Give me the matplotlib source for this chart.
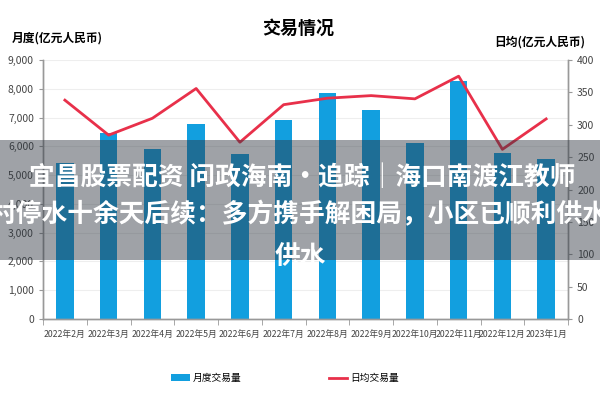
import matplotlib
matplotlib.use('Agg')
import matplotlib.pyplot as plt
from matplotlib.patches import Rectangle

plt.rcParams['font.family'] = ['Noto Sans CJK SC', 'DejaVu Sans']
narrow = ['Liberation Sans Narrow', 'Noto Sans CJK SC']

# data
months = ['2022年2月', '2022年3月', '2022年4月', '2022年5月', '2022年6月', '2022年7月',
          '2022年8月', '2022年9月', '2022年10月', '2022年11月', '2022年12月', '2023年1月']
monthly = [5420, 6480, 5900, 6770, 5730, 6910, 7840, 7260, 6100, 8260, 5760, 5550]
daily = [338, 284, 310, 356, 273, 331, 341, 345, 340, 375, 262, 309]
left_ticks = [0, 1000, 2000, 3000, 4000, 5000, 6000, 7000, 8000, 9000]
right_ticks = [0, 50, 100, 150, 200, 250, 300, 350, 400]

bar_color = '#129fdf'
line_color = '#e8304a'
axis_gray = '#999999'

fig = plt.figure(figsize=(6, 4), dpi=100)
ax = fig.add_axes([0.0717, 0.2025, 0.875, 0.6475])
ax2 = ax.twinx()

x = list(range(len(months)))
bars = ax.bar(x, monthly, width=0.4, color=bar_color, zorder=2, label='月度交易量')
line, = ax2.plot(x, daily, color=line_color, linewidth=2, label='日均交易量')

ax.set_xlim(-0.5, len(months) - 0.5)
ax.set_ylim(0, 9000)
ax2.set_ylim(0, 400)
ax.set_yticks(left_ticks)
ax.set_yticklabels([f'{v:,}' for v in left_ticks], family=narrow, fontsize=7.5, color='#444444')
ax2.set_yticks(right_ticks)
ax2.set_yticklabels([str(v) for v in right_ticks], family=narrow, fontsize=7.5, color='#444444')

ax.set_xticks(x)
ax.set_xticklabels(months, family=narrow, fontsize=6.3, color='#444444')
ax.set_xticks([i + 0.5 for i in range(-1, len(months))], minor=True)
ax.tick_params(axis='x', which='major', length=0, pad=8)
ax.tick_params(axis='x', which='minor', length=4, color=axis_gray)
ax.tick_params(axis='y', length=3, color=axis_gray)
ax2.tick_params(axis='y', length=3, color=axis_gray)

ax.grid(axis='y', color='#eeeeee', linewidth=0.8, zorder=0)
ax.set_axisbelow(True)
for a in (ax, ax2):
    a.spines['top'].set_visible(False)
    for s in ('left', 'right', 'bottom'):
        a.spines[s].set_color(axis_gray)
        a.spines[s].set_linewidth(1)

# titles
fig.text(0.497, 0.93, '交易情况', ha='center', va='center', fontsize=13, fontweight='bold')
fig.text(0.02, 0.905, '月度(亿元人民币)', ha='left', va='center', fontsize=8.5, fontweight='bold')
fig.text(0.975, 0.895, '日均(亿元人民币)', ha='right', va='center', fontsize=8.5, fontweight='bold')

fig.legend(handles=[bars, line], loc='center', bbox_to_anchor=(0.475, 0.055), ncol=2,
           frameon=False, fontsize=7, columnspacing=9, handlelength=1.9,
           handleheight=0.6, handletextpad=0.3)

# overlay band with headline
fig.patches.append(Rectangle((0, 0.35), 1, 0.3, transform=fig.transFigure,
                             facecolor='#2e3640', alpha=0.46, zorder=5))
fig.text(0.503, 0.555, '宜昌股票配资 问政海南·追踪｜海口南渡江教师', ha='center', va='center',
         fontsize=18.5, fontweight='bold', color='white', zorder=6)
fig.text(0.5, 0.463, '村停水十余天后续：多方携手解困局，小区已顺利供水', ha='center', va='center',
         fontsize=18.5, fontweight='bold', color='white', zorder=6)
fig.text(0.5, 0.36, '供水', ha='center', va='center',
         fontsize=18.5, fontweight='bold', color='white', zorder=6)

fig.savefig('out.png', dpi=100)
